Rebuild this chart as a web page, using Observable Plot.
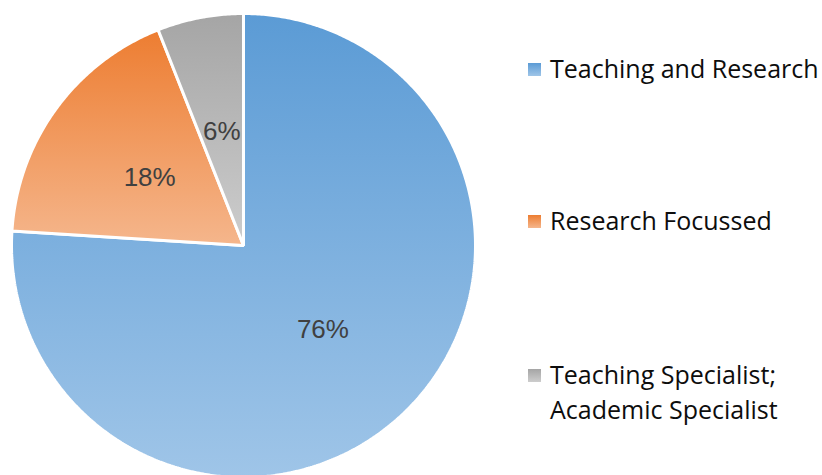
<!DOCTYPE html>
<html>
<head>
<meta charset="utf-8">
<script src="https://cdn.jsdelivr.net/npm/d3@7"></script>
<script src="https://cdn.jsdelivr.net/npm/@observablehq/plot@0.6"></script>
<style>
  html, body { margin: 0; padding: 0; background: #fff; }
  #wrap { position: relative; width: 822px; height: 475px; overflow: hidden; }
  #chart { position: absolute; left: 0; top: 0; }
  .leg { position: absolute; left: 528px; font-family: "Open Sans", sans-serif; font-size: 25px; color: #0d0d0d; line-height: 35px; }
  .leg .sw { position: absolute; left: 0; width: 13px; height: 13px; }
  .leg .tx { position: absolute; left: 22px; white-space: nowrap; }
</style>
</head>
<body>
<div id="wrap"><div id="chart"></div></div>
<script>
const categories = ["Teaching and Research", "Research Focussed", "Teaching Specialist;\nAcademic Specialist"];
const values = [76, 18, 6];
const labels = ["76%", "18%", "6%"];
const topColors = ["#5B9BD5", "#ED7D31", "#A5A5A5"];
const bottomColors = ["#9FC5E8", "#F5B68C", "#CDCDCD"];

const total = d3.sum(values);
let acc = 0;
const slices = values.map((v, i) => {
  const a0 = acc / total * 2 * Math.PI;
  acc += v;
  const a1 = acc / total * 2 * Math.PI;
  return {i, a0, a1, label: labels[i]};
});

// polygon points for each slice (angles clockwise from 12 o'clock)
const pts = [];
for (const s of slices) {
  pts.push({k: s.i, x: 0, y: 0});
  const n = Math.max(4, Math.ceil((s.a1 - s.a0) / (Math.PI / 360)));
  for (let j = 0; j <= n; j++) {
    const a = s.a0 + (s.a1 - s.a0) * j / n;
    pts.push({k: s.i, x: Math.sin(a), y: Math.cos(a)});
  }
}
const labelPts = slices.map(s => {
  const a = (s.a0 + s.a1) / 2;
  return {x: 0.5 * Math.sin(a), y: 0.5 * Math.cos(a), label: s.label};
});

const cx = 243, cy = 245, R = 232;
const svg = Plot.plot({
  width: 500,
  height: 475,
  margin: 0,
  x: {domain: [-1, 1], range: [cx - R, cx + R], axis: null},
  y: {domain: [-1, 1], range: [cy + R, cy - R], axis: null},
  marks: [
    ...slices.map(s => Plot.line(pts.filter(p => p.k === s.i), {
      x: "x", y: "y", curve: "linear-closed",
      fill: `url(#grad${s.i})`, stroke: "white", strokeWidth: 3, strokeLinejoin: "miter"
    })),
    Plot.text(labelPts, {x: "x", y: "y", text: "label", fontSize: 26,
      fontFamily: "Liberation Sans, Arial, sans-serif", fill: "#404040"})
  ]
});

const ns = "http://www.w3.org/2000/svg";
const defs = document.createElementNS(ns, "defs");
topColors.forEach((c, i) => {
  const g = document.createElementNS(ns, "linearGradient");
  g.setAttribute("id", "grad" + i);
  g.setAttribute("x1", "0"); g.setAttribute("y1", "0");
  g.setAttribute("x2", "0"); g.setAttribute("y2", "1");
  const s0 = document.createElementNS(ns, "stop");
  s0.setAttribute("offset", "0"); s0.setAttribute("stop-color", c);
  const s1 = document.createElementNS(ns, "stop");
  s1.setAttribute("offset", "1"); s1.setAttribute("stop-color", bottomColors[i]);
  g.appendChild(s0); g.appendChild(s1);
  defs.appendChild(g);
});
svg.insertBefore(defs, svg.firstChild);
document.getElementById("chart").appendChild(svg);

// legend
const legendTops = [51, 203, 357];
const wrap = document.getElementById("wrap");
categories.forEach((c, i) => {
  const d = document.createElement("div");
  d.className = "leg";
  d.style.top = legendTops[i] + "px";
  const sw = document.createElement("div");
  sw.className = "sw";
  sw.style.top = "12px";
  sw.style.background = `linear-gradient(${topColors[i]}, ${bottomColors[i]})`;
  const tx = document.createElement("div");
  tx.className = "tx";
  tx.innerHTML = c.split("\n").join("<br>");
  d.appendChild(sw); d.appendChild(tx);
  wrap.appendChild(d);
});
</script>
</body>
</html>
